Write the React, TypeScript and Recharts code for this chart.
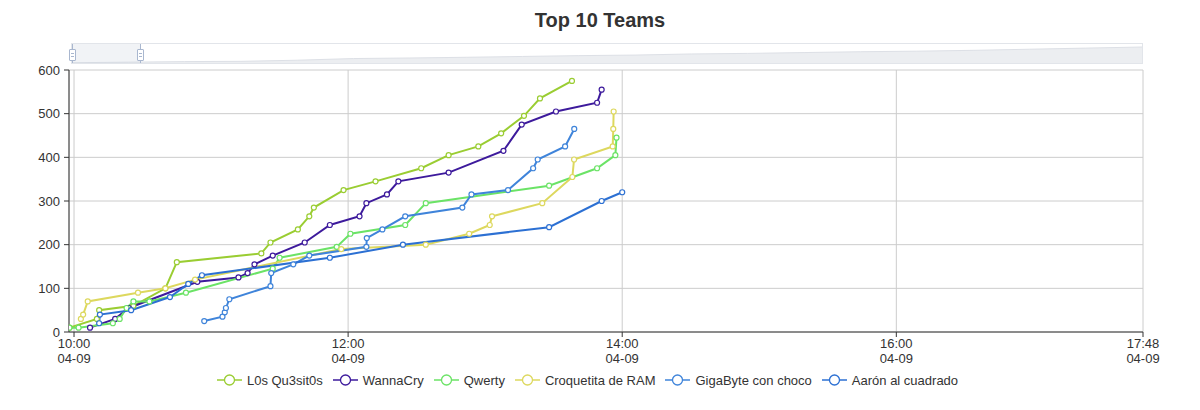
import React from "react";
import { LineChart, Line, XAxis, YAxis, CartesianGrid, Legend, AreaChart, Area } from "recharts";

const FONT = '"Liberation Sans", Arial, Helvetica, sans-serif';

// ---- data (time of solve, cumulative score) ----
const l0sQu3sit0s: [string, number][] = [
  ["09:58", 10], ["10:10", 30], ["10:11", 50], ["10:26", 60], ["10:40", 100], ["10:45", 160],
  ["11:22", 180], ["11:26", 205], ["11:38", 235], ["11:43", 265], ["11:45", 285], ["11:58", 325],
  ["12:12", 345], ["12:32", 375], ["12:44", 405], ["12:57", 425], ["13:07", 455], ["13:17", 495],
  ["13:24", 535], ["13:38", 575],
];
const wannaCry: [string, number][] = [
  ["10:07", 10], ["10:18", 30], ["10:24", 55], ["10:54", 115], ["11:12", 125], ["11:16", 135],
  ["11:19", 155], ["11:27", 175], ["11:41", 205], ["11:52", 245], ["12:05", 265], ["12:08", 295],
  ["12:17", 315], ["12:22", 345], ["12:44", 365], ["13:08", 415], ["13:16", 475], ["13:31", 505],
  ["13:49", 525], ["13:51", 555],
];
const qwerty: [string, number][] = [
  ["09:58", 10], ["10:02", 10], ["10:17", 20], ["10:20", 30], ["10:23", 55], ["10:26", 70],
  ["10:33", 70], ["10:49", 90], ["11:27", 145], ["11:30", 170], ["11:55", 195], ["12:01", 225],
  ["12:25", 245], ["12:34", 295], ["13:28", 335], ["13:49", 375], ["13:57", 405], ["13:57:30", 445],
];
const croquetitaDeRam: [string, number][] = [
  ["10:03", 30], ["10:04", 40], ["10:06", 70], ["10:28", 90], ["10:40", 100], ["10:53", 120],
  ["11:57", 190], ["12:34", 200], ["12:53", 225], ["13:02", 245], ["13:03", 265], ["13:25", 295],
  ["13:38:10", 355], ["13:38:55", 395], ["13:55:50", 425], ["13:56:05", 465], ["13:56:15", 505],
];
const gigaByteConChoco: [string, number][] = [
  ["10:57", 25], ["11:05", 35], ["11:06", 45], ["11:06:30", 55], ["11:08", 75], ["11:26", 105],
  ["11:26:20", 135], ["11:36", 155], ["11:43", 175], ["12:08", 195], ["12:08:10", 215],
  ["12:15", 235], ["12:25", 265], ["12:50", 285], ["12:54", 315], ["13:10", 325], ["13:21", 375],
  ["13:23", 395], ["13:35", 425], ["13:39", 465],
];
const aaronAlCuadrado: [string, number][] = [
  ["10:11", 20], ["10:11:20", 40], ["10:25", 50], ["10:42", 80], ["10:50", 110], ["10:56", 130],
  ["11:52", 170], ["12:24", 200], ["13:28", 240], ["13:51", 300], ["14:00", 320],
];

const teamNames = ["L0s Qu3sit0s", "WannaCry", "Qwerty", "Croquetita de RAM", "GigaByte con choco", "Aarón al cuadrado"];
const teamColors = ["#9acd32", "#3d1a9c", "#6be366", "#ddd85e", "#3f84da", "#2c70d3"];
const teamSeries = [l0sQu3sit0s, wannaCry, qwerty, croquetitaDeRam, gigaByteConChoco, aaronAlCuadrado];

const xTickTimes = ["10:00", "12:00", "14:00", "16:00", "17:48"];
const xTickDate = "04-09";
const xDomainStart = "09:57:48";
const yTicks = [0, 100, 200, 300, 400, 500, 600];
const brushRangePercent = [0, 6.4];

const toMinutes = (t: string) => {
  const [h, m, s = "0"] = t.split(":");
  return (Number(h) - 10) * 60 + Number(m) + Number(s) / 60;
};

const seriesData = teamSeries.map((s) => s.map(([t, v]) => ({ t: toMinutes(t), v })));
const xTicks = xTickTimes.map(toMinutes);
const shadowData = l0sQu3sit0s.map(([, v], i) => ({ i, v }));

const XTick = (props: any) => {
  const { x, y, payload } = props;
  const idx = xTicks.indexOf(payload.value);
  return (
    <g transform={`translate(${x},${y})`}>
      <text textAnchor="middle" fill="#333" fontSize={13} fontFamily={FONT}>
        <tspan x={0} dy={8}>{xTickTimes[idx]}</tspan>
        <tspan x={0} dy={15}>{xTickDate}</tspan>
      </text>
    </g>
  );
};

const LegendContent = () => (
  <div style={{ display: "flex", justifyContent: "center", alignItems: "center", height: 24, fontFamily: FONT, fontSize: 13, color: "#333" }}>
    {teamNames.map((n, i) => (
      <div key={n} style={{ display: "flex", alignItems: "center", marginRight: 10 }}>
        <svg width={25} height={14}>
          <line x1={0} y1={7} x2={25} y2={7} stroke={teamColors[i]} strokeWidth={1.5} />
          <circle cx={12.5} cy={7} r={5} fill="#fff" stroke={teamColors[i]} strokeWidth={1.3} />
        </svg>
        <span style={{ marginLeft: 5 }}>{n}</span>
      </div>
    ))}
  </div>
);

const Handle = ({ pct }: { pct: number }) => (
  <div style={{ position: "absolute", left: `${pct}%`, top: 0, height: "100%", width: 0 }}>
    <div style={{ position: "absolute", left: -0.5, top: 0, width: 1, height: "100%", background: "#a9b7cf" }} />
    <div style={{ position: "absolute", left: -3.5, top: 5, width: 5, height: 10, background: "#fff", border: "1px solid #a9b7cf", borderRadius: 1 }}>
      <div style={{ position: "absolute", left: 1, top: 3, width: 3, height: 1, background: "#a9b7cf" }} />
      <div style={{ position: "absolute", left: 1, top: 6, width: 3, height: 1, background: "#a9b7cf" }} />
    </div>
  </div>
);

export default function App() {
  return (
    <div style={{ position: "absolute", left: 0, top: 0, width: 1200, height: 410, background: "#fff", fontFamily: FONT }}>
      <div style={{ position: "absolute", left: 0, top: 8, width: 1200, textAlign: "center", fontSize: 20, fontWeight: "bold", lineHeight: "24px", color: "#333" }}>
        Top 10 Teams
      </div>
      <div style={{ position: "absolute", left: 71, top: 43, width: 1072, height: 21, border: "1px solid #e2e5ea", boxSizing: "border-box" }}>
        <AreaChart width={1070} height={19} data={shadowData} margin={{ top: 3, right: 0, bottom: 0, left: 0 }}>
          <XAxis dataKey="i" type="number" domain={["dataMin", "dataMax"]} hide />
          <YAxis domain={[0, "dataMax"]} hide />
          <Area type="linear" dataKey="v" stroke="#dde0e6" strokeWidth={1} fill="#eceef1" fillOpacity={1} isAnimationActive={false} dot={false} activeDot={false} />
        </AreaChart>
        <div style={{ position: "absolute", top: 0, height: "100%", left: `${brushRangePercent[0]}%`, width: `${brushRangePercent[1] - brushRangePercent[0]}%`, background: "rgba(200,206,218,0.25)" }} />
        <Handle pct={brushRangePercent[0]} />
        <Handle pct={brushRangePercent[1]} />
      </div>
      <div style={{ position: "absolute", left: 0, top: 0 }}>
        <LineChart width={1200} height={410} margin={{ top: 70, right: 57, bottom: 18, left: 0 }}>
          <CartesianGrid stroke="#cccccc" />
          <XAxis
            dataKey="t"
            type="number"
            domain={[toMinutes(xDomainStart), toMinutes(xTickTimes[xTickTimes.length - 1])]}
            ticks={xTicks}
            interval={0}
            allowDataOverflow
            height={36}
            tickSize={5}
            tickMargin={3}
            tick={<XTick />}
            axisLine={{ stroke: "#333" }}
            tickLine={{ stroke: "#333" }}
          />
          <YAxis
            type="number"
            domain={[0, 600]}
            ticks={yTicks}
            width={69}
            tickSize={5}
            tickMargin={4}
            tick={{ fill: "#333", fontSize: 13, fontFamily: FONT }}
            axisLine={{ stroke: "#333" }}
            tickLine={{ stroke: "#333" }}
          />
          <Legend verticalAlign="bottom" height={24} content={<LegendContent />} wrapperStyle={{ left: 0, width: 1185 }} />
          {seriesData.map((d, i) => (
            <Line
              key={teamNames[i]}
              data={d}
              dataKey="v"
              name={teamNames[i]}
              type="linear"
              stroke={teamColors[i]}
              strokeWidth={2}
              dot={{ r: 2.5, fill: "#fff", stroke: teamColors[i], strokeWidth: 1.2 }}
              activeDot={false}
              isAnimationActive={false}
            />
          ))}
        </LineChart>
      </div>
    </div>
  );
}
